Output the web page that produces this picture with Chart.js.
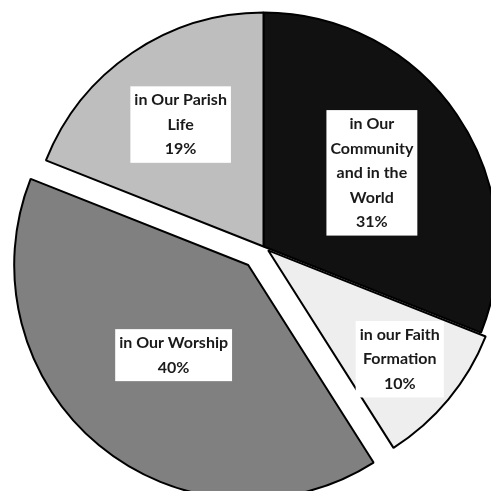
<!DOCTYPE html>
<html>
<head>
<meta charset="utf-8">
<script src="https://cdn.jsdelivr.net/npm/chart.js@4/dist/chart.umd.min.js"></script>
<style>
  html, body { margin: 0; padding: 0; background: #fff; overflow: hidden; }
  #wrap { width: 491px; height: 491px; }
</style>
</head>
<body>
<div id="wrap"><canvas id="pieChart" width="491" height="491"></canvas></div>
<script>
// Datos del grafico
const categories = ['in Our Community and in the World', 'in our Faith Formation', 'in Our Worship', 'in Our Parish Life'];
const labelLines = [
    ['in Our', 'Community', 'and in the', 'World'],
    ['in our Faith', 'Formation'],
    ['in Our Worship'],
    ['in Our Parish', 'Life']
];
const values = [31, 10, 40, 19];

// Estilos
const sliceColors = ['#111111', '#eeeeee', '#808080', '#bebebe'];
const explode = [0, 6, 24, 0];            // px que se separa cada sector
const labelRadius = [0.56, 0.73, 0.5, 0.63]; // posicion de la etiqueta (fraccion del radio)

// Dibuja los sectores desplazados (sin el ajuste de radio que hace "offset")
const explodePlugin = {
    id: 'explode',
    beforeDatasetsDraw(chart) {
        const ctx = chart.ctx;
        chart.getDatasetMeta(0).data.forEach((arc, i) => {
            const mid = (arc.startAngle + arc.endAngle) / 2;
            ctx.save();
            ctx.translate(Math.cos(mid) * explode[i], Math.sin(mid) * explode[i]);
            arc.draw(ctx);
            ctx.restore();
        });
        return false;
    }
};

// Etiquetas en cajas blancas
const boxLabels = {
    id: 'boxLabels',
    afterDraw(chart) {
        const ctx = chart.ctx;
        const lineH = 24.5;
        ctx.save();
        ctx.font = 'bold 16px Lato';
        ctx.textAlign = 'center';
        ctx.textBaseline = 'middle';
        chart.getDatasetMeta(0).data.forEach((arc, i) => {
            const mid = (arc.startAngle + arc.endAngle) / 2;
            const r = arc.outerRadius * labelRadius[i] + explode[i];
            const cx = arc.x + Math.cos(mid) * r;
            const cy = arc.y + Math.sin(mid) * r;
            const lines = labelLines[i].concat([values[i] + '%']);
            let w = 0;
            lines.forEach(l => { w = Math.max(w, ctx.measureText(l).width); });
            const boxW = w + 8;
            const boxH = lines.length * lineH + 3;
            ctx.fillStyle = '#ffffff';
            ctx.fillRect(cx - boxW / 2, cy - boxH / 2, boxW, boxH);
            ctx.fillStyle = '#1a1a1a';
            lines.forEach((l, k) => {
                ctx.fillText(l, cx, cy - boxH / 2 + 1.5 + lineH * (k + 0.5));
            });
        });
        ctx.restore();
    }
};

const ctx = document.getElementById('pieChart').getContext('2d');
const chart = new Chart(ctx, {
    type: 'pie',
    data: {
        labels: categories,
        datasets: [{
            data: values,
            backgroundColor: sliceColors,
            borderColor: '#000000',
            borderWidth: 2
        }]
    },
    options: {
        responsive: false,
        animation: false,
        radius: 234,
        layout: { padding: { left: 36, right: 0, top: 2, bottom: 0 } },
        plugins: {
            legend: { display: false },
            tooltip: { enabled: false }
        }
    },
    plugins: [explodePlugin, boxLabels]
});
</script>
</body>
</html>
